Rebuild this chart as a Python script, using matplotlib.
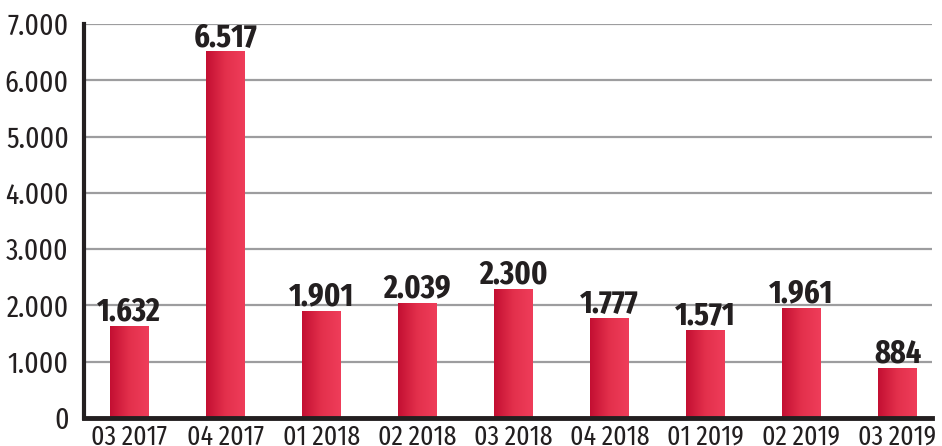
import numpy as np
import matplotlib.pyplot as plt
from matplotlib.colors import LinearSegmentedColormap

plt.rcParams['font.family'] = ['Fira Sans Extra Condensed', 'DejaVu Sans']

quarters = ['03 2017', '04 2017', '01 2018', '02 2018', '03 2018',
            '04 2018', '01 2019', '02 2019', '03 2019']
values = [1632, 6517, 1901, 2039, 2300, 1777, 1571, 1961, 884]
yticks = [0, 1000, 2000, 3000, 4000, 5000, 6000, 7000]


def fmt(v):
    return f'{v:,}'.replace(',', '.')


text_col = '#231f20'
grad = LinearSegmentedColormap.from_list('bar', ['#c30f32', '#e3304c', '#ef3d5a'])

fig = plt.figure(figsize=(9.42, 4.46), dpi=100)
ax = fig.add_axes([0.0892, 0.0628, 0.9003, 0.8832])

x = np.arange(len(quarters))
bars = ax.bar(x, values, width=0.4, color='none', zorder=3)

# gradient fill left -> right for each bar
g = np.linspace(0, 1, 256).reshape(1, -1)
for b in bars:
    x0, w, h = b.get_x(), b.get_width(), b.get_height()
    im = ax.imshow(g, cmap=grad, aspect='auto', extent=[x0, x0 + w, 0, h],
                   zorder=3, interpolation='bilinear')
    im.set_clip_path(b)

for xi, v in zip(x, values):
    ax.annotate(fmt(v), (xi, v), xytext=(0, 4), textcoords='offset points',
                ha='center', va='baseline', fontsize=23.5, fontweight='bold',
                color=text_col, zorder=4)

ax.set_xlim(-0.47, 8.36)
ax.set_ylim(0, 7000)
ax.set_yticks(yticks)
ax.set_yticklabels([fmt(t) for t in yticks])
ax.set_xticks(x)
ax.set_xticklabels(quarters)
ax.tick_params(axis='y', length=0, pad=11, labelsize=21.5, labelcolor=text_col)
ax.tick_params(axis='x', length=0, pad=4, labelsize=20, labelcolor=text_col)

ax.grid(axis='y', color='#9d9d9f', linewidth=1.6, zorder=1)
ax.set_axisbelow(True)
for s in ['top', 'right']:
    ax.spines[s].set_visible(False)
ax.spines['left'].set_linewidth(3)
ax.spines['bottom'].set_linewidth(3.5)
ax.spines['left'].set_color(text_col)
ax.spines['bottom'].set_color(text_col)
ax.spines['left'].set_zorder(5)
ax.spines['bottom'].set_zorder(5)

fig.savefig('out.png', dpi=100)
